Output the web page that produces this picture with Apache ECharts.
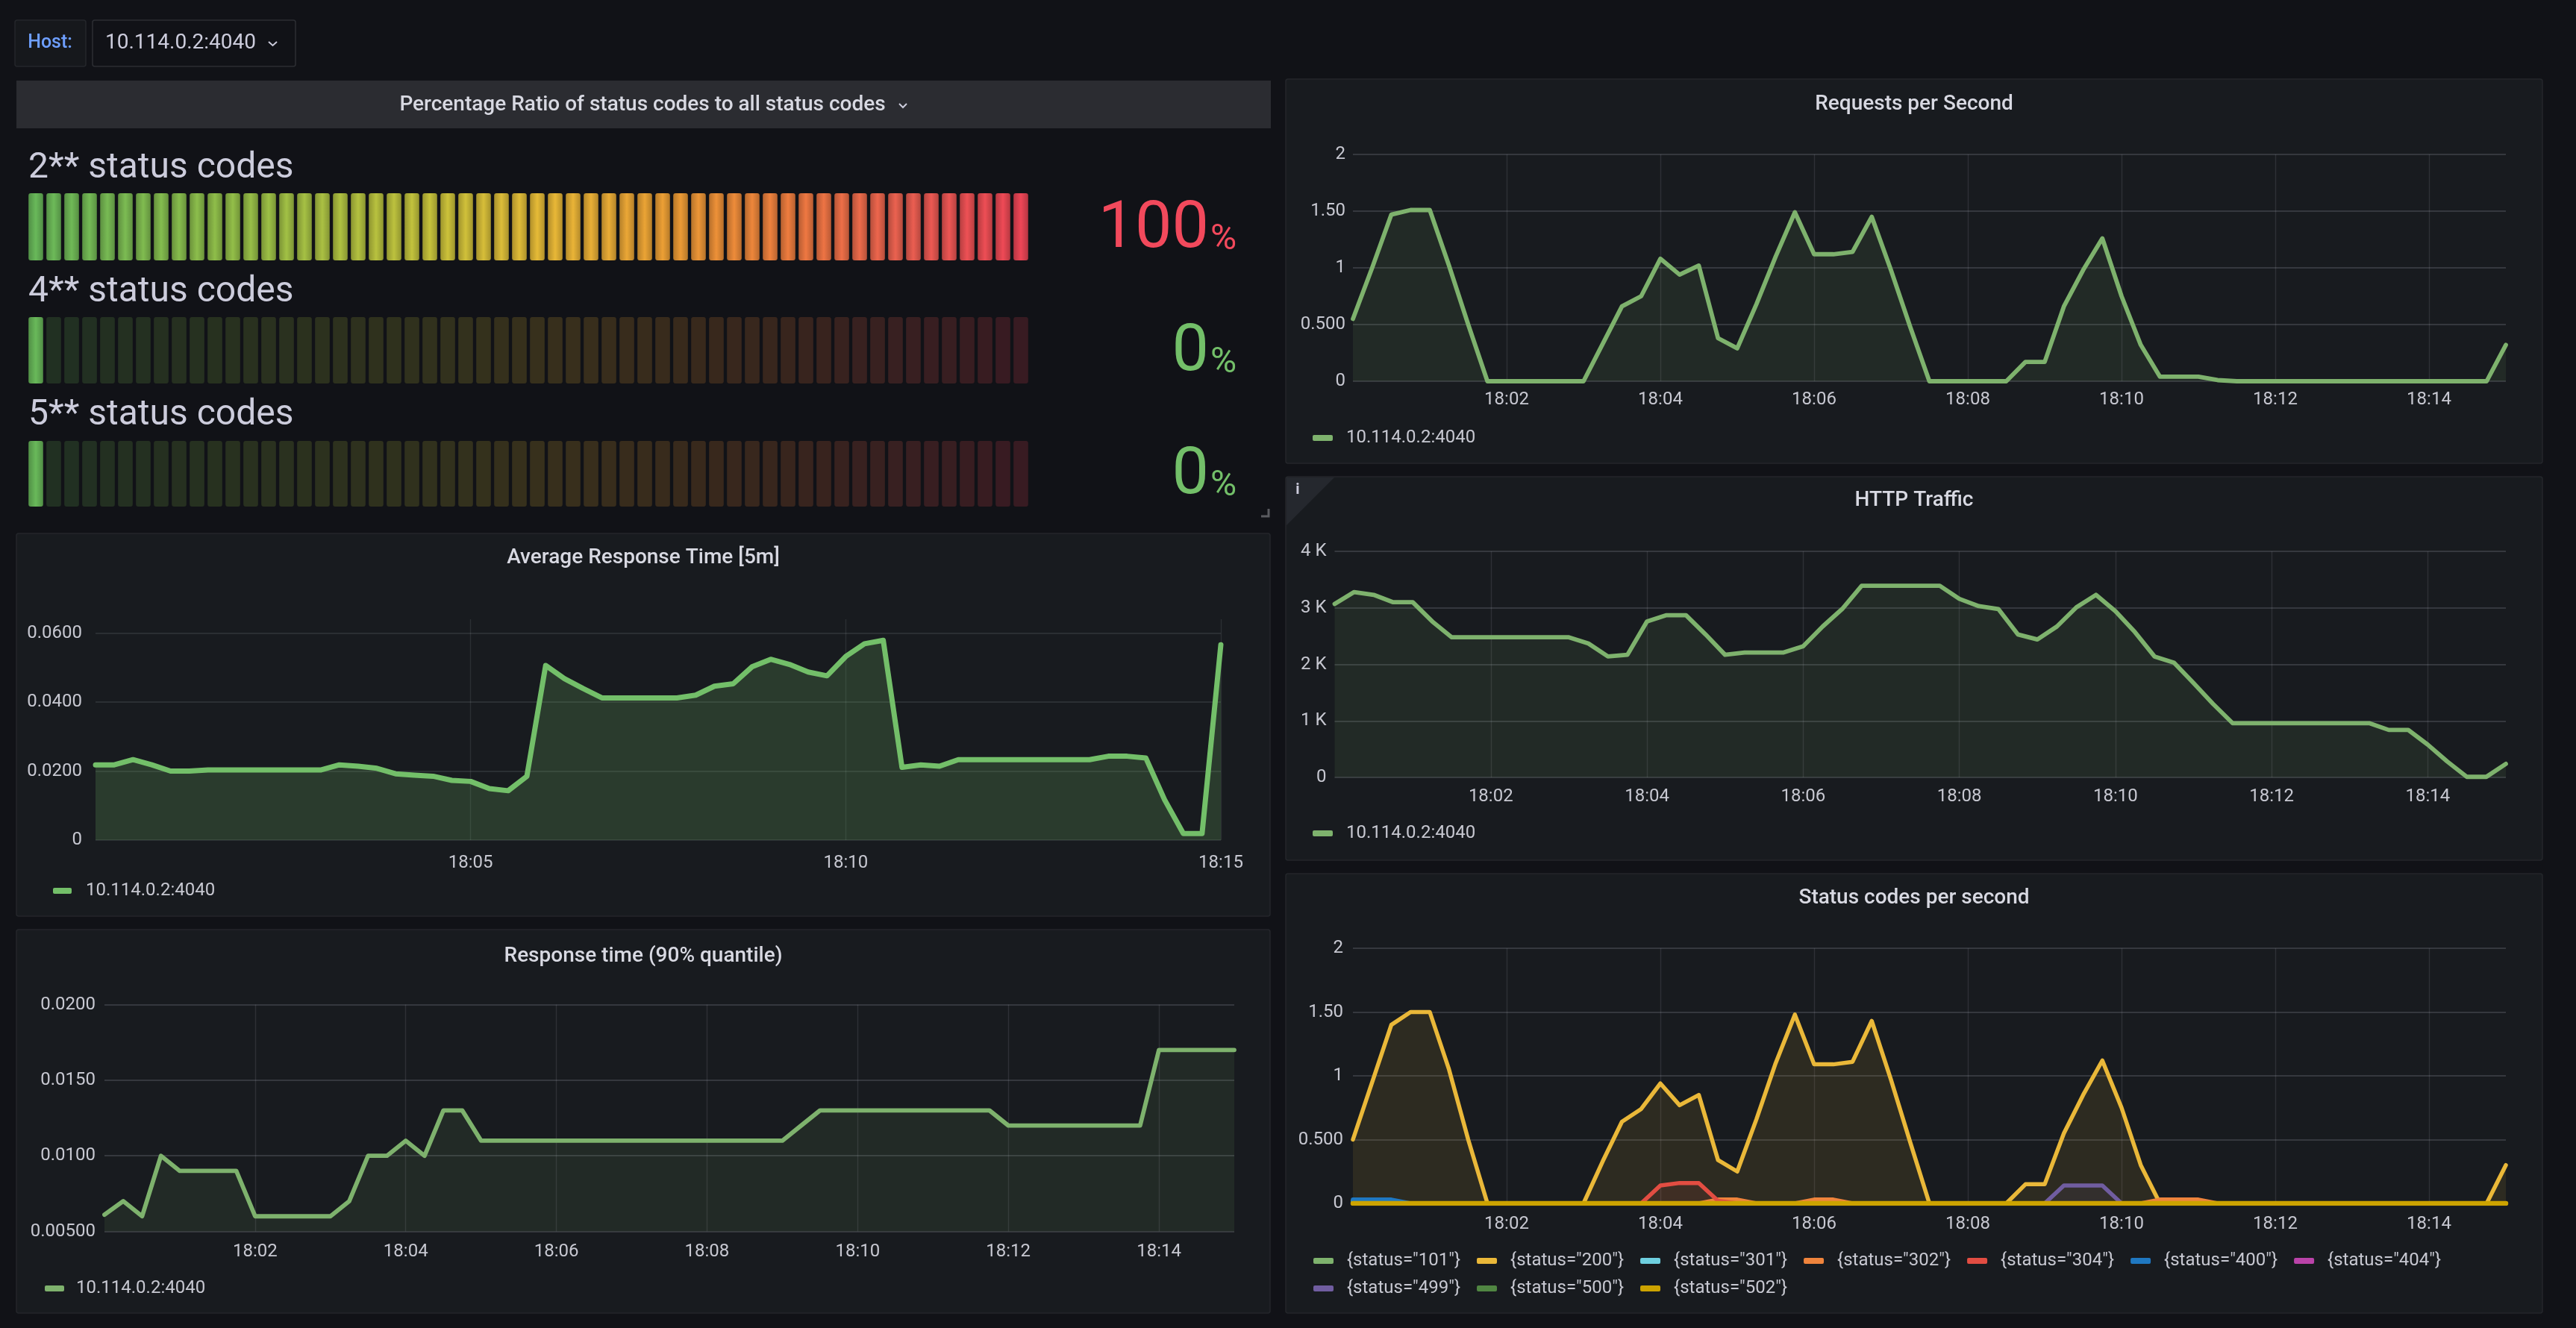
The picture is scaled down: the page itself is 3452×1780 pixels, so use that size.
<!DOCTYPE html>
<html>
<head>
<meta charset="utf-8">
<title>Dashboard</title>
<script src="https://cdn.jsdelivr.net/npm/echarts@6/dist/echarts.min.js"></script>
<style>
  html, body { margin: 0; padding: 0; background: #111217; }
  #main { width: 3452px; height: 1780px; }
</style>
</head>
<body>
<div id="main"></div>
<script>
// samples every 15 s, starting 18:00:00
var START_HOUR = 18;
var STEP_S = 15;

var hostName = '10.114.0.2:4040';

// bar gauge
var gaugeLabels = ['2** status codes', '4** status codes', '5** status codes'];
var gaugeValues = [100, 0, 0];
var GAUGE_CELLS = 56;

// tick labels as Grafana prints them
var rpsTicks = ['0', '0.500', '1', '1.50', '2'];
var httpTicks = ['0', '1 K', '2 K', '3 K', '4 K'];
var avgTicks = ['0', '0.0200', '0.0400', '0.0600'];
var rt90Ticks = ['0.00500', '0.0100', '0.0150', '0.0200'];

var rpsValues = [
  0.55, 1.00, 1.47, 1.51, 1.51, 1.02, 0.50, 0, 0, 0,
  0, 0, 0, 0.33, 0.66, 0.75, 1.08, 0.94, 1.02, 0.38,
  0.29, 0.68, 1.10, 1.49, 1.12, 1.12, 1.14, 1.45, 0.98, 0.48,
  0, 0, 0, 0, 0, 0.17, 0.17, 0.66, 0.98, 1.26,
  0.75, 0.32, 0.04, 0.04, 0.04, 0.01, 0, 0, 0, 0,
  0, 0, 0, 0, 0, 0, 0, 0, 0, 0,
  0.32
];

var httpValues = [
  3070, 3280, 3230, 3100, 3100, 2760, 2480, 2480, 2480, 2480,
  2480, 2480, 2480, 2370, 2140, 2170, 2760, 2870, 2870, 2530,
  2170, 2210, 2210, 2210, 2320, 2670, 2980, 3390, 3390, 3390,
  3390, 3390, 3160, 3030, 2980, 2530, 2440, 2670, 3010, 3230,
  2940, 2570, 2140, 2030, 1670, 1300, 960, 960, 960, 960,
  960, 960, 960, 960, 840, 840, 580, 280, 10, 10,
  240
];

var avgRespValues = [
  0.0218, 0.0218, 0.0233, 0.0218, 0.0200, 0.0200, 0.0203, 0.0203, 0.0203, 0.0203,
  0.0203, 0.0203, 0.0203, 0.0218, 0.0214, 0.0208, 0.0192, 0.0188, 0.0185, 0.0173,
  0.0170, 0.0149, 0.0143, 0.0185, 0.0506, 0.0468, 0.0439, 0.0412, 0.0412, 0.0412,
  0.0412, 0.0412, 0.0420, 0.0446, 0.0453, 0.0502, 0.0524, 0.0509, 0.0487, 0.0476,
  0.0532, 0.0569, 0.0579, 0.0211, 0.0218, 0.0214, 0.0233, 0.0233, 0.0233, 0.0233,
  0.0233, 0.0233, 0.0233, 0.0233, 0.0243, 0.0243, 0.0238, 0.0117, 0.0019, 0.0019,
  0.0566
];

var rt90Values = [
  0.0061, 0.0070, 0.0060, 0.0100, 0.0090, 0.0090, 0.0090, 0.0090, 0.0060, 0.0060,
  0.0060, 0.0060, 0.0060, 0.0070, 0.0100, 0.0100, 0.0110, 0.0100, 0.0130, 0.0130,
  0.0110, 0.0110, 0.0110, 0.0110, 0.0110, 0.0110, 0.0110, 0.0110, 0.0110, 0.0110,
  0.0110, 0.0110, 0.0110, 0.0110, 0.0110, 0.0110, 0.0110, 0.0120, 0.0130, 0.0130,
  0.0130, 0.0130, 0.0130, 0.0130, 0.0130, 0.0130, 0.0130, 0.0130, 0.0120, 0.0120,
  0.0120, 0.0120, 0.0120, 0.0120, 0.0120, 0.0120, 0.0170, 0.0170, 0.0170, 0.0170,
  0.0170
];

var statusCodes = ['101', '200', '301', '302', '304', '400', '404', '499', '500', '502'];
var statusColors = ['#7EB26D', '#EAB839', '#6ED0E0', '#EF843C', '#E24D42',
                    '#1F78C1', '#BA43A9', '#705DA0', '#508642', '#CCA300'];

var statusZero = [
  0, 0, 0, 0, 0, 0, 0, 0, 0, 0,
  0, 0, 0, 0, 0, 0, 0, 0, 0, 0,
  0, 0, 0, 0, 0, 0, 0, 0, 0, 0,
  0, 0, 0, 0, 0, 0, 0, 0, 0, 0,
  0, 0, 0, 0, 0, 0, 0, 0, 0, 0,
  0, 0, 0, 0, 0, 0, 0, 0, 0, 0,
  0
];
var status200 = [
  0.50, 0.95, 1.40, 1.50, 1.50, 1.05, 0.50, 0, 0, 0,
  0, 0, 0, 0.33, 0.64, 0.74, 0.94, 0.77, 0.85, 0.34,
  0.25, 0.66, 1.10, 1.48, 1.09, 1.09, 1.11, 1.43, 0.97, 0.48,
  0, 0, 0, 0, 0, 0.15, 0.15, 0.55, 0.85, 1.12,
  0.75, 0.30, 0, 0, 0, 0, 0, 0, 0, 0,
  0, 0, 0, 0, 0, 0, 0, 0, 0, 0,
  0.30
];
var status301 = [
  0.02, 0.02, 0, 0, 0, 0, 0, 0, 0, 0,
  0, 0, 0, 0, 0, 0, 0, 0, 0, 0,
  0, 0, 0, 0, 0, 0, 0, 0, 0, 0,
  0, 0, 0, 0, 0, 0, 0, 0, 0, 0,
  0, 0, 0, 0, 0, 0, 0, 0, 0, 0,
  0, 0, 0, 0, 0, 0, 0, 0, 0, 0,
  0
];
var status302 = [
  0, 0, 0, 0, 0, 0, 0, 0, 0, 0,
  0, 0, 0, 0, 0, 0, 0, 0, 0, 0.03,
  0.03, 0, 0, 0, 0.03, 0.03, 0, 0, 0, 0,
  0, 0, 0, 0, 0, 0, 0, 0, 0, 0,
  0, 0, 0.03, 0.03, 0.03, 0, 0, 0, 0, 0,
  0, 0, 0, 0, 0, 0, 0, 0, 0, 0,
  0
];
var status304 = [
  0, 0, 0, 0, 0, 0, 0, 0, 0, 0,
  0, 0, 0, 0, 0, 0, 0.14, 0.16, 0.16, 0.02,
  0, 0, 0, 0, 0, 0, 0, 0, 0, 0,
  0, 0, 0, 0, 0, 0, 0, 0, 0, 0,
  0, 0, 0, 0, 0, 0, 0, 0, 0, 0,
  0, 0, 0, 0, 0, 0, 0, 0, 0, 0,
  0
];
var status400 = [
  0.03, 0.03, 0.03, 0, 0, 0, 0, 0, 0, 0,
  0, 0, 0, 0, 0, 0, 0, 0, 0, 0,
  0, 0, 0, 0, 0, 0, 0, 0, 0, 0,
  0, 0, 0, 0, 0, 0, 0, 0, 0, 0,
  0, 0, 0, 0, 0, 0, 0, 0, 0, 0,
  0, 0, 0, 0, 0, 0, 0, 0, 0, 0,
  0
];
var status499 = [
  0, 0, 0, 0, 0, 0, 0, 0, 0, 0,
  0, 0, 0, 0, 0, 0, 0, 0, 0, 0,
  0, 0, 0, 0, 0, 0, 0, 0, 0, 0,
  0, 0, 0, 0, 0, 0, 0, 0.14, 0.14, 0.14,
  0, 0, 0, 0, 0, 0, 0, 0, 0, 0,
  0, 0, 0, 0, 0, 0, 0, 0, 0, 0,
  0
];
var statusValues = [statusZero, status200, status301, status302, status304,
                    status400, statusZero, status499, statusZero, statusZero];

// ---------- styling ----------
var FONT = 'Roboto, "Noto Sans", sans-serif';
var TITLE_COLOR = '#d8d9e2';
var LABEL_COLOR = '#c7c8d1';
var GREEN = '#7EB26D';
var NEW_GREEN = '#73BF69';

function toPoints(values) {
  return values.map(function (v, i) { return [i * STEP_S, v]; });
}

function fmtTime(v) {
  var m = Math.round(v / 60);
  return START_HOUR + ':' + (m < 10 ? '0' : '') + m;
}

function timeAxis(gridIndex, interval, margin, showMax, gridColor) {
  return {
    type: 'value', gridIndex: gridIndex, min: 0, max: 60 * STEP_S, interval: interval,
    axisLine: { show: false }, axisTick: { show: false },
    axisLabel: {
      color: LABEL_COLOR, fontSize: 24, fontFamily: FONT, margin: margin,
      showMinLabel: false, showMaxLabel: showMax, formatter: fmtTime
    },
    splitLine: {
      show: true, showMinLine: false, showMaxLine: showMax,
      lineStyle: { color: gridColor, width: 1.4 }
    }
  };
}

function valueAxis(gridIndex, min, max, interval, ticks, margin, gridColor) {
  var maxIsTick = min + (ticks.length - 1) * interval >= max - 1e-9;
  return {
    type: 'value', gridIndex: gridIndex, min: min, max: max, interval: interval,
    axisLine: { show: false }, axisTick: { show: false },
    axisLabel: {
      color: LABEL_COLOR, fontSize: 24, fontFamily: FONT, margin: margin,
      showMaxLabel: maxIsTick,
      formatter: function (v) {
        var i = Math.round((v - min) / interval);
        return ticks[i] !== undefined ? ticks[i] : '';
      }
    },
    splitLine: {
      show: true, showMaxLine: maxIsTick,
      lineStyle: { color: gridColor, width: 2 }
    }
  };
}

function lineSeries(name, idx, values, color, width, fillOpacity) {
  return {
    type: 'line', name: name, xAxisIndex: idx, yAxisIndex: idx,
    data: toPoints(values), symbol: 'none', showSymbol: false,
    lineStyle: { color: color, width: width, join: 'round', cap: 'round' },
    itemStyle: { color: color },
    areaStyle: { color: color, opacity: fillOpacity },
    emphasis: { disabled: true }
  };
}

function legend(left, top, names, colors, iw, pad) {
  return {
    left: left, top: top, padding: 0, itemGap: 22, selectedMode: false,
    itemWidth: iw, itemHeight: 8, icon: 'roundRect', orient: 'horizontal',
    textStyle: { color: LABEL_COLOR, fontSize: 24, fontFamily: FONT, lineHeight: 24, padding: [0, 0, 0, pad] },
    data: names.map(function (n, i) { return { name: n, itemStyle: { color: colors[i] } }; })
  };
}

// ---------- gauge colours ----------
var gaugeStops = [[0, [95, 168, 82]], [0.2, [134, 174, 66]], [0.4, [181, 177, 54]],
                  [0.52, [212, 169, 50]], [0.65, [215, 142, 48]], [0.77, [217, 112, 58]],
                  [0.88, [214, 87, 74]], [1, [217, 64, 79]]];
function gaugeColor(p) {
  for (var i = 1; i < gaugeStops.length; i++) {
    if (p <= gaugeStops[i][0]) {
      var a = gaugeStops[i - 1], b = gaugeStops[i];
      var t = (p - a[0]) / (b[0] - a[0]);
      return [0, 1, 2].map(function (k) { return Math.round(a[1][k] + (b[1][k] - a[1][k]) * t); });
    }
  }
  return gaugeStops[gaugeStops.length - 1][1];
}
function rgb(c, f, a) {
  var r = c.map(function (x) { return Math.max(0, Math.min(255, Math.round(x * f))); });
  return 'rgba(' + r[0] + ',' + r[1] + ',' + r[2] + ',' + a + ')';
}
function gaugeCells(value) {
  var lit = Math.max(1, Math.round(value / 100 * GAUGE_CELLS));
  var cells = [];
  for (var i = 0; i < GAUGE_CELLS; i++) {
    var c = gaugeColor(i / (GAUGE_CELLS - 1));
    var color = i < lit
      ? new echarts.graphic.LinearGradient(0, 0, 1, 0, [
          { offset: 0, color: rgb(c, 0.85, 1) },
          { offset: 0.5, color: rgb(c, 1.1, 1) },
          { offset: 1, color: rgb(c, 0.85, 1) }])
      : rgb(c, 1, 0.2);
    cells.push({ value: 1, itemStyle: { color: color, borderRadius: 3 } });
  }
  return cells;
}
var cellIndex = [];
for (var ci = 0; ci < GAUGE_CELLS; ci++) cellIndex.push(ci);

// ---------- layout ----------
var panels = [
  { x: 22, y: 715, w: 1680, h: 513, title: 'Average Response Time [5m]', ty: 748 },
  { x: 22, y: 1246, w: 1680, h: 514, title: 'Response time (90% quantile)', ty: 1282 },
  { x: 1723, y: 106, w: 1684, h: 515, title: 'Requests per Second', ty: 140 },
  { x: 1723, y: 639, w: 1684, h: 514, title: 'HTTP Traffic', ty: 671 },
  { x: 1723, y: 1171, w: 1684, h: 589, title: 'Status codes per second', ty: 1204 }
];

var OLD_X = 'rgba(204,204,220,0.12)';
var OLD_Y = 'rgba(204,204,220,0.17)';
var NEW_GRID = 'rgba(240,250,255,0.09)';

var grids = [
  { left: 128, top: 830, width: 1508, height: 296 },
  { left: 140, top: 1346.5, width: 1514, height: 304 },
  { left: 1813, top: 207, width: 1545, height: 304 },
  { left: 1788.5, top: 739, width: 1569.5, height: 303 },
  { left: 1813, top: 1271, width: 1545, height: 342 },
  { left: 36, top: 259, width: 1344, height: 90 },
  { left: 36, top: 425, width: 1344, height: 89 },
  { left: 36, top: 591, width: 1344, height: 88 }
];

var xAxes = [
  timeAxis(0, 300, 19, true, NEW_GRID),
  timeAxis(1, 120, 15, false, OLD_X),
  timeAxis(2, 120, 13, false, OLD_X),
  timeAxis(3, 120, 14, false, OLD_X),
  timeAxis(4, 120, 16, false, OLD_X)
];
var yAxes = [
  valueAxis(0, 0, 0.064, 0.02, avgTicks, 18, NEW_GRID),
  valueAxis(1, 0.005, 0.02, 0.005, rt90Ticks, 12, OLD_Y),
  valueAxis(2, 0, 2, 0.5, rpsTicks, 10, OLD_Y),
  valueAxis(3, 0, 4000, 1000, httpTicks, 11, OLD_Y),
  valueAxis(4, 0, 2, 0.5, rpsTicks, 13, OLD_Y)
];
for (var g = 0; g < 3; g++) {
  xAxes.push({ type: 'category', gridIndex: 5 + g, data: cellIndex, show: false });
  yAxes.push({ type: 'value', gridIndex: 5 + g, min: 0, max: 1, show: false });
}

var series = [
  lineSeries(hostName, 0, avgRespValues, NEW_GREEN, 7, 0.2),
  lineSeries(hostName, 1, rt90Values, GREEN, 5.8, 0.1),
  lineSeries(hostName, 2, rpsValues, GREEN, 5.8, 0.1),
  lineSeries(hostName, 3, httpValues, GREEN, 5.8, 0.1)
];
var statusNames = statusCodes.map(function (c) { return '{status="' + c + '"}'; });
statusNames.forEach(function (n, i) {
  series.push(lineSeries(n, 4, statusValues[i], statusColors[i], i === 9 ? 6.5 : 5.5, 0.1));
});
gaugeValues.forEach(function (v, i) {
  series.push({
    type: 'bar', xAxisIndex: 5 + i, yAxisIndex: 5 + i, barWidth: 19.6,
    data: gaugeCells(v), silent: true
  });
});

// ---------- graphic: panels, titles, texts ----------
var graphics = [];
panels.forEach(function (p) {
  graphics.push({
    type: 'rect', z: -10, silent: true,
    shape: { x: p.x, y: p.y, width: p.w, height: p.h, r: 3 },
    style: { fill: '#181b1f', stroke: '#24262b', lineWidth: 1.5 }
  });
  graphics.push({
    type: 'text', z: 50, silent: true,
    style: { x: p.x + p.w / 2, y: p.ty, text: p.title, fill: TITLE_COLOR,
             font: '500 28px ' + FONT, textAlign: 'center', textVerticalAlign: 'middle' }
  });
});

// host variable
graphics.push(
  { type: 'rect', z: -10, shape: { x: 20, y: 27, width: 95, height: 62, r: 3 },
    style: { fill: '#16181c', stroke: '#24262b', lineWidth: 1.5 } },
  { type: 'text', z: 50, style: { x: 67, y: 58, text: 'Host:', fill: '#6e9fff',
    font: '500 25px ' + FONT, textAlign: 'center', textVerticalAlign: 'middle' } },
  { type: 'rect', z: -10, shape: { x: 124, y: 27, width: 272, height: 62, r: 3 },
    style: { fill: '#111217', stroke: '#2c2e33', lineWidth: 1.5 } },
  { type: 'text', z: 50, style: { x: 141, y: 58, text: hostName, fill: '#ccccdc',
    font: '28px ' + FONT, textAlign: 'left', textVerticalAlign: 'middle' } },
  { type: 'polyline', z: 50, shape: { points: [[360, 56], [365.5, 61], [371, 56]] },
    style: { stroke: '#ccccdc', lineWidth: 2, fill: null } }
);

// gauge panel header
graphics.push(
  { type: 'rect', z: -10, shape: { x: 22, y: 108, width: 1681, height: 64 },
    style: { fill: '#2b2c31' } },
  { type: 'text', z: 50, style: { x: 861, y: 141,
    text: 'Percentage Ratio of status codes to all status codes', fill: TITLE_COLOR,
    font: '500 28px ' + FONT, textAlign: 'center', textVerticalAlign: 'middle' } },
  { type: 'polyline', z: 50, shape: { points: [[1205, 139], [1210, 144], [1215, 139]] },
    style: { stroke: '#ccccdc', lineWidth: 2, fill: null } },
  { type: 'polyline', z: 50, shape: { points: [[1690, 692], [1700, 692], [1700, 682]] },
    style: { stroke: '#5a5b60', lineWidth: 3, fill: null } }
);

// gauge labels and values
var labelY = [226, 392, 557];
var valueY = [309, 474, 639];
gaugeLabels.forEach(function (lab, i) {
  var v = gaugeValues[i];
  var col = v >= 80 ? '#F2495C' : (v >= 50 ? '#FF9830' : '#73BF69');
  graphics.push(
    { type: 'text', z: 50, style: { x: 38, y: labelY[i], text: lab, fill: '#ccccdc',
      font: '48px ' + FONT, textAlign: 'left', textVerticalAlign: 'middle' } },
    { type: 'text', z: 50, style: { x: 1620, y: valueY[i], text: String(v), fill: col,
      font: '88px ' + FONT, textAlign: 'right', textVerticalAlign: 'middle' } },
    { type: 'text', z: 50, style: { x: 1622, y: valueY[i] + 13, text: '%', fill: col,
      font: '48px ' + FONT, textAlign: 'left', textVerticalAlign: 'middle' } }
  );
});

// info corner on HTTP Traffic
graphics.push(
  { type: 'polygon', z: -5, shape: { points: [[1724, 640], [1788, 640], [1724, 704]] },
    style: { fill: '#25282e' } },
  { type: 'text', z: 50, style: { x: 1739, y: 657, text: 'i', fill: '#ccccdc',
    font: 'bold 20px ' + FONT, textAlign: 'center', textVerticalAlign: 'middle' } }
);

var legends = [
  legend(71, 1182, [hostName], [NEW_GREEN], 25, 14),
  legend(60, 1715, [hostName], [GREEN], 26, 11),
  legend(1759, 575, [hostName], [GREEN], 27, 13),
  legend(1759, 1105, [hostName], [GREEN], 27, 13),
  legend(1760, 1678, statusNames.slice(0, 7), statusColors.slice(0, 7), 27, 13),
  legend(1760, 1715, statusNames.slice(7), statusColors.slice(7), 27, 13)
];

var chart = echarts.init(document.getElementById('main'));
chart.setOption({
  backgroundColor: '#111217',
  animation: false,
  textStyle: { fontFamily: FONT },
  grid: grids,
  xAxis: xAxes,
  yAxis: yAxes,
  legend: legends,
  graphic: { elements: graphics },
  series: series
});
</script>
</body>
</html>
